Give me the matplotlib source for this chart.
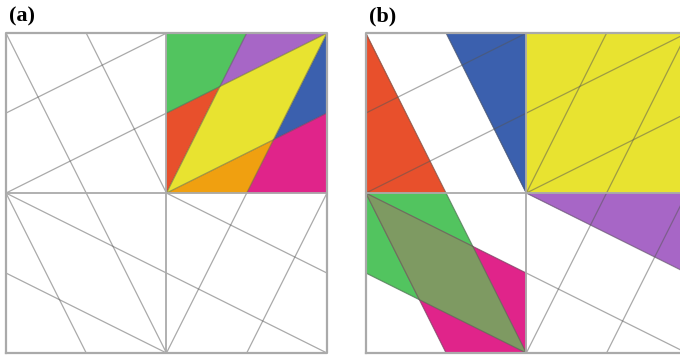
import matplotlib.pyplot as plt
from matplotlib.patches import Polygon

# crease lines shared by both panels, square is 0..4 with centre (2, 2)
crease_lines = [
    [(0, 4), (2, 0)],
    [(1, 4), (2, 2)],
    [(0, 2), (4, 4)],
    [(0, 3), (2, 4)],
    [(0, 2), (4, 0)],
    [(0, 1), (2, 0)],
    [(0, 2), (1, 0)],
    [(2, 2), (4, 1)],
    [(2, 0), (4, 4)],
    [(3, 0), (4, 2)],
    [(2, 2), (3, 4)],
    [(2, 2), (4, 3)],
]
grid_lines = [[(2, 0), (2, 4)], [(0, 2), (4, 2)]]

t = 4 / 3.0
# panel (a): pieces of the upper right square
pieces_a = [
    ("#e8502c", [(2, 2), (2, 3), (2 * t, 2.5 * t)]),
    ("#52c45f", [(2, 3), (2, 4), (3, 4), (2 * t, 2.5 * t)]),
    ("#a766c6", [(3, 4), (4, 4), (2 * t, 2.5 * t)]),
    ("#3b60ae", [(4, 4), (4, 3), (2.5 * t, 2 * t)]),
    ("#e0248a", [(4, 3), (4, 2), (3, 2), (2.5 * t, 2 * t)]),
    ("#f0a010", [(2, 2), (3, 2), (2.5 * t, 2 * t)]),
    ("#e8e330", [(2, 2), (2 * t, 2.5 * t), (4, 4), (2.5 * t, 2 * t)]),
]
# panel (b): pieces spread over the whole square
pieces_b = [
    ("#e8502c", [(0, 4), (0, 2), (1, 2)]),
    ("#3b60ae", [(1, 4), (2, 4), (2, 2)]),
    ("#e8e330", [(2, 2), (4, 2), (4, 4), (2, 4)]),
    ("#a766c6", [(2, 2), (4, 2), (4, 1)]),
    ("#52c45f", [(0, 2), (1, 2), (2, 0), (0, 1)]),
    ("#e0248a", [(0, 2), (2, 1), (2, 0), (1, 0)]),
    ("#7e9a62", [(0, 2), (t, t), (2, 0), (t / 2, t / 2)]),
]

fig = plt.figure(figsize=(6.8, 3.57), dpi=100)


def draw_panel(rect, pieces, label):
    ax = fig.add_axes(rect)
    ax.set_xlim(0, 4)
    ax.set_ylim(0, 4)
    ax.set_aspect("auto")
    ax.axis("off")
    for color, pts in pieces:
        ax.add_patch(Polygon(pts, closed=True, facecolor=color,
                             edgecolor=color, lw=0.3, zorder=1))
    for (x0, y0), (x1, y1) in crease_lines:
        ax.plot([x0, x1], [y0, y1], color="#555555", alpha=0.5,
                lw=0.9, zorder=2, solid_capstyle="butt")
    for (x0, y0), (x1, y1) in grid_lines:
        ax.plot([x0, x1], [y0, y1], color="#aaaaaa", lw=1.3, zorder=3)
    ax.plot([0, 4, 4, 0, 0], [0, 0, 4, 4, 0], color="#aaaaaa",
            lw=1.6, zorder=3, clip_on=False)
    fig.text(rect[0] + 0.004, 0.94, label, fontsize=16, fontweight="bold",
             fontfamily="Liberation Serif", ha="left", va="baseline")


draw_panel([0.0088, 0.0112, 0.472, 0.896], pieces_a, "(a)")
draw_panel([0.538, 0.0112, 0.472, 0.896], pieces_b, "(b)")

fig.savefig("out.png", dpi=100)
